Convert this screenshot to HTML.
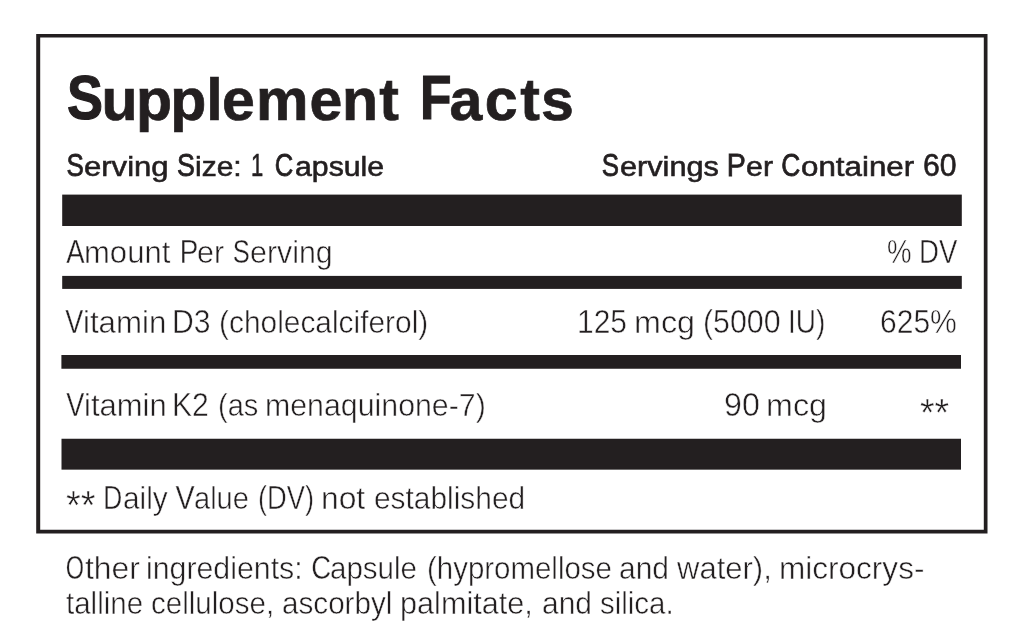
<!DOCTYPE html>
<html lang="en">
<head>
<meta charset="utf-8">
<title>Supplement Facts</title>
<style>
html,body{margin:0;padding:0;background:#fff}
body{width:1024px;height:641px;position:relative;overflow:hidden;font-family:"Liberation Sans",sans-serif;color:#231f20}
h1,p{position:absolute;left:0;top:0;margin:0;font-size:0;line-height:0;font-weight:400;white-space:nowrap}
.g{position:absolute;left:0;top:0;fill:#231f20}
span{display:inline-block;position:relative;vertical-align:top;width:0;line-height:1;transform-origin:0 0}
.m span{font-weight:400;-webkit-text-stroke:.6px #231f20}
.m .c::before{-webkit-text-stroke:.8px #231f20}
.l span{font-weight:400;-webkit-text-stroke:.5px #fff}
.l .c::before{-webkit-text-stroke:.35px #fff}
.c::first-letter{font-size:0}
.c::before{position:absolute;left:var(--l);top:var(--t);font-size:var(--f);line-height:1;transform:scaleX(var(--s));transform-origin:0 0}
.cA::before{content:"A"}
.cC::before{content:"C"}
.cD::before{content:"D"}
.cO::before{content:"O"}
.cP::before{content:"P"}
.cS::before{content:"S"}
.cV::before{content:"V"}
.tt{position:absolute;left:0;top:0;font-weight:700;fill:#231f20;stroke:#231f20;stroke-width:.7px}
h1::before,h1::after{position:absolute;top:66px;font-size:63px;line-height:1;font-weight:700;-webkit-text-stroke:1.2px #231f20;transform-origin:0 0}
h1::before{content:"S";left:67.09px;transform:scaleX(.8564)}
h1::after{content:"F";left:419.6px;transform:scaleX(.8184)}
</style>
</head>
<body>
<svg class="g" width="1024" height="641" viewBox="0 0 1024 641" aria-hidden="true">
<path fill-rule="evenodd" d="M36.2 34H987.5V533.5H36.2ZM40.2 37.6H983.8V529.85H40.2Z"/>
<rect x="62.2" y="194.6" width="899.6" height="31.4"/>
<rect x="62.2" y="275.9" width="899.6" height="13"/>
<rect x="61.4" y="355" width="899.6" height="13.75"/>
<rect x="61.5" y="438.75" width="899.5" height="30.9"/>
</svg>
<h1><svg class="tt" width="1024" height="641" viewBox="0 0 1024 641"><text x="-400 101.57 135.89 170.22 206.36 221.89 256.05 309.62 342.01 379.36 -400 -400 449.42 484.83 520.19 541.01" y="120" font-size="59">Supplement Facts</text></svg></h1>
<p class="m"><span class="c cS" style="left:83.91px;top:152px;font-size:28.4px;transform:scaleX(1.0937);--l:-16.36px;--t:-2px;--f:31.5px;--s:.7535">Serving</span> <span class="c cS" style="left:194.67px;top:152px;font-size:28.4px;transform:scaleX(1.0556);--l:-16.96px;--t:-2px;--f:31.5px;--s:.8054">Size:</span> <span style="left:251.13px;top:150px;font-size:31.6px;transform:scaleX(.6964)">1</span> <span class="c cC" style="left:294.8px;top:152px;font-size:28.4px;transform:scaleX(1.0648);--l:-18.58px;--t:-2px;--f:31.5px;--s:.7645">Capsule</span> <span class="c cS" style="left:619.72px;top:152px;font-size:28.4px;transform:scaleX(1.0802);--l:-16.52px;--t:-2px;--f:31.5px;--s:.7603">Servings</span> <span class="c cP" style="left:745.73px;top:152px;font-size:28.4px;transform:scaleX(1.0688);--l:-18.03px;--t:-2px;--f:31.5px;--s:.8483">Per</span> <span class="c cC" style="left:800.7px;top:152px;font-size:28.4px;transform:scaleX(1.103);--l:-17.98px;--t:-2px;--f:31.5px;--s:.7598">Container</span> <span style="left:922.7px;top:150px;font-size:31.6px;transform:scaleX(.9546)">60</span></p>
<p class="l"><span class="c cA" style="left:84.34px;top:237px;font-size:31.6px;transform:scaleX(.9829);--l:-17.81px;--t:-2px;--f:33.2px;--s:.8412">Amount</span> <span class="c cP" style="left:196.81px;top:237px;font-size:31.6px;transform:scaleX(.9629);--l:-18.19px;--t:-2px;--f:33.2px;--s:.8678">Per</span> <span class="c cS" style="left:250.1px;top:237px;font-size:31.6px;transform:scaleX(.9604);--l:-17.57px;--t:-2px;--f:33.2px;--s:.801">Serving</span> <span style="left:886.5px;top:235px;font-size:33.2px;transform:scaleX(.8302)">%</span> <span style="left:918.51px;top:235px;font-size:33.2px;transform:scaleX(.8306)">DV</span></p>
<p class="l"><span class="c cV" style="left:83.48px;top:307px;font-size:31.6px;transform:scaleX(.9881);--l:-18.29px;--t:-2px;--f:33.2px;--s:.8244">Vitamin</span> <span style="left:171.75px;top:305px;font-size:33.2px;transform:scaleX(.9073)">D3</span> <span style="left:219.12px;top:307px;font-size:31.6px;transform:scaleX(.9458)">(cholecalciferol)</span> <span style="left:576.55px;top:305px;font-size:33.2px;transform:scaleX(.902)">125</span> <span style="left:634.32px;top:307px;font-size:31.6px;transform:scaleX(1.0229)">mcg</span> <span style="left:702.69px;top:305px;font-size:33.2px;transform:scaleX(.9136)">(5000</span> <span style="left:787.51px;top:305px;font-size:33.2px;transform:scaleX(.8439)">IU)</span> <span style="left:879.94px;top:305px;font-size:33.2px;transform:scaleX(.9049)">625%</span></p>
<p class="l"><span class="c cV" style="left:83.9px;top:390px;font-size:31.6px;transform:scaleX(.9811);--l:-18.06px;--t:-2px;--f:33.2px;--s:.8327">Vitamin</span> <span style="left:171.84px;top:388px;font-size:33.2px;transform:scaleX(.9091)">K2</span> <span style="left:217.93px;top:390px;font-size:31.6px;transform:scaleX(.9193)">(as</span> <span style="left:265px;top:390px;font-size:31.6px;transform:scaleX(.9594)">menaquinone-7)</span> <span style="left:724.05px;top:388px;font-size:33.2px;transform:scaleX(.9701)">90</span> <span style="left:765.94px;top:390px;font-size:31.6px;transform:scaleX(1.0219)">mcg</span> <span style="left:919.77px;top:392.84px;font-size:40px;transform:scale(.938,.985)">**</span></p>
<p class="l"><span style="left:66.2px;top:483.74px;font-size:40px;transform:scale(.9483,1.0377)">**</span> <span class="c cD" style="left:123.39px;top:483px;font-size:31.6px;transform:scaleX(.9445);--l:-20.93px;--t:-2px;--f:33.2px;--s:.8391">Daily</span> <span class="c cV" style="left:194.01px;top:483px;font-size:31.6px;transform:scaleX(.92);--l:-19.99px;--t:-2px;--f:33.2px;--s:.9394">Value</span> <span style="left:257.68px;top:481px;font-size:33.2px;transform:scaleX(.8221)">(DV)</span> <span style="left:321.48px;top:483px;font-size:31.6px;transform:scaleX(1.0061)">not</span> <span style="left:373.84px;top:483px;font-size:31.6px;transform:scaleX(.9457)">established</span></p>
<p class="l"><span class="c cO" style="left:85.1px;top:553px;font-size:31.6px;transform:scaleX(1.0096);--l:-18.6px;--t:-2px;--f:33.2px;--s:.7023">Other</span> <span style="left:146.3px;top:553px;font-size:31.6px;transform:scaleX(.9588)">ingredients:</span> <span class="c cC" style="left:329.87px;top:553px;font-size:31.6px;transform:scaleX(.9343);--l:-20.13px;--t:-2px;--f:33.2px;--s:.8865">Capsule</span> <span style="left:427.22px;top:553px;font-size:31.6px;transform:scaleX(.9319)">(hypromellose</span> <span style="left:618.84px;top:553px;font-size:31.6px;transform:scaleX(.9485)">and</span> <span style="left:677.01px;top:553px;font-size:31.6px;transform:scaleX(.9812)">water),</span> <span style="left:779px;top:553px;font-size:31.6px;transform:scaleX(.9982)">microcrys-</span></p>
<p class="l"><span style="left:65.77px;top:588px;font-size:31.6px;transform:scaleX(.9338)">talline</span> <span style="left:150.86px;top:588px;font-size:31.6px;transform:scaleX(.9349)">cellulose,</span> <span style="left:282.07px;top:588px;font-size:31.6px;transform:scaleX(.9383)">ascorbyl</span> <span style="left:399.79px;top:588px;font-size:31.6px;transform:scaleX(.9696)">palmitate,</span> <span style="left:542.34px;top:588px;font-size:31.6px;transform:scaleX(.9485)">and</span> <span style="left:600.08px;top:588px;font-size:31.6px;transform:scaleX(.9322)">silica.</span></p>
</body>
</html>
